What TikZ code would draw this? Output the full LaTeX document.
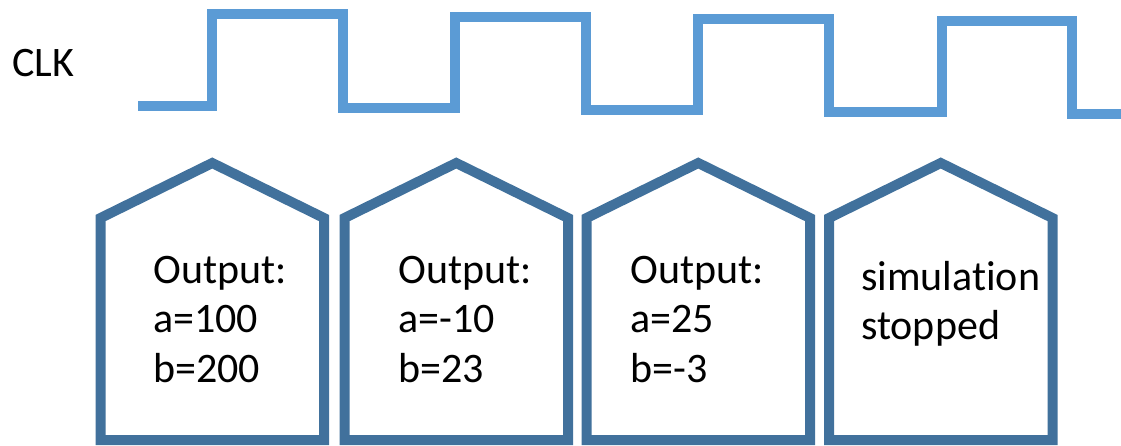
\documentclass[tikz,border=0pt]{standalone}
\usepackage{fontspec}
\setmainfont{Carlito}[Ligatures=NoCommon]
\definecolor{wavecol}{HTML}{5B9BD5}
\definecolor{housecol}{HTML}{41719C}
\tikzset{
  clkwave/.style={draw=wavecol, line width=10pt, line join=miter, line cap=butt},
  housebox/.style={draw=housecol, line width=10pt, line join=miter, fill=white},
  lbl/.style={anchor=base west, inner sep=0pt, font=\fontsize{42}{49.5}\selectfont},
  house/.pic={\draw[housebox] (0,440) -- (0,218) -- (111.75,163) -- (223.5,218) -- (223.5,440) -- cycle;}
}
\begin{document}
\begin{tikzpicture}[x=1pt,y=-1pt]
\useasboundingbox (0,0) rectangle (1121,445);
% clock
\node[lbl] (clk) at (12,76) {CLK};
\coordinate (w0) at (138,105.5);
\coordinate (w1) at (1121,114);
\draw[clkwave] (w0) -- (212,105.5) -- (212,14) -- (342.5,14) -- (342.5,107.5)
  -- (455,107.5) -- (455,16.7) -- (586,16.7) -- (586,110) -- (698,110)
  -- (698,18.7) -- (829,18.7) -- (829,112) -- (942,112) -- (942,21)
  -- (1072,21) -- (1072,114) -- (w1);
% houses
\pic at (100.5,0) {house};
\pic at (344.5,0) {house};
\pic at (586.5,0) {house};
\pic at (829,0) {house};
% texts
\node[lbl] (t1) at (153,283) {\begin{tabular}[t]{@{}l@{}}Output:\\a=100\\b=200\end{tabular}};
\node[lbl] (t2) at (398,283) {\begin{tabular}[t]{@{}l@{}}Output:\\a=-10\\b=23\end{tabular}};
\node[lbl] (t3) at (630,283) {\begin{tabular}[t]{@{}l@{}}Output:\\a=25\\b=-3\end{tabular}};
\node[lbl] (t4) at (861,290) {\begin{tabular}[t]{@{}l@{}}simulation\\stopped\end{tabular}};
\end{tikzpicture}
\end{document}
